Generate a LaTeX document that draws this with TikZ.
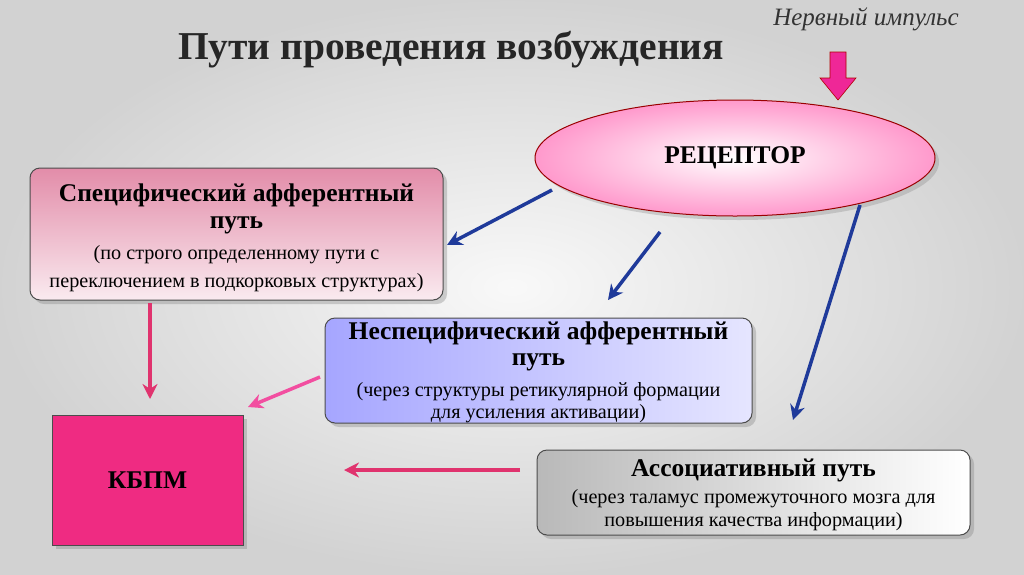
\documentclass[tikz,border=0pt]{standalone}
\usepackage{fontspec}
\setmainfont{Liberation Serif}
\usetikzlibrary{arrows.meta,shadows,shapes.geometric}
\definecolor{bluearr}{HTML}{1F3A9A}
\definecolor{pinkarr}{HTML}{E0336E}
\tikzset{
  barr/.style={draw=bluearr,line width=3.5pt,-{Stealth[length=15pt,width=15pt]}},
  parr/.style={draw=pinkarr,line width=3.5pt,-{Stealth[length=15pt,width=15pt]}},
  bx/.style={rounded corners=10pt,draw=black!70,line width=1pt,drop shadow={opacity=0.35,shadow xshift=4pt,shadow yshift=-4pt},align=center},
  big/.style={font=\fontsize{25.5}{29}\selectfont\bfseries},
  sm/.style={font=\fontsize{20.2}{24}\selectfont}
}
\begin{document}
\begin{tikzpicture}[x=1pt,y=-1pt]
\useasboundingbox (0,0) rectangle (1024,574);
\shade[inner color=white!95!gray,outer color=gray!35] (0,0) rectangle (1024,574);
\node (title) at (451,50) [font=\fontsize{39.5}{44}\selectfont\bfseries,text=black!85] {Пути проведения возбуждения};
\node (imp) at (866,19) [font=\fontsize{25}{28}\selectfont\itshape,text=black!80] {Нервный импульс};
\node (rec) at (735,158) [ellipse,minimum width=400pt,minimum height=116pt,draw=red!60!black,line width=1pt,inner color=white,outer color=pink!80!magenta,drop shadow={opacity=0.3,shadow xshift=4pt,shadow yshift=-4pt},big] {РЕЦЕПТОР};
\draw[draw=red!70!black,fill=magenta!80!pink,line width=0.6pt] (830,52) -- (846,52) -- (846,78) -- (856,78) -- (838,100) -- (820,78) -- (830,78) -- cycle;
\node (b1) [bx,minimum width=413pt,minimum height=132pt,left color=purple!45!white,right color=white!92!purple,shading angle=0] at (236.5,234) {};
\node at (236.5,195) [big] {Специфический афферентный};
\node at (236.5,225) [big] {путь};
\node at (236.5,255) [sm] {(по строго определенному пути с};
\node at (236.5,283) [sm] {переключением в подкорковых структурах)};
\node (b2) [bx,minimum width=427pt,minimum height=105pt,left color=blue!35!white,right color=white!90!blue] at (538.5,370.5) {};
\node at (538.5,333) [big] {Неспецифический афферентный};
\node at (538.5,362) [big] {путь};
\node at (538.5,392) [sm] {(через структуры ретикулярной формации};
\node at (538.5,414) [sm] {для усиления активации)};
\node (b3) [bx,minimum width=433pt,minimum height=85pt,left color=gray!55,right color=white] at (753.5,492.5) {};
\node at (753.5,470) [big] {Ассоциативный путь};
\node at (753.5,499) [sm] {(через таламус промежуточного мозга для};
\node at (753.5,522) [sm] {повышения качества информации)};
\node (k) [draw=black!70,line width=1pt,fill=magenta!75!red!85!white,minimum width=191pt,minimum height=130pt,big,drop shadow={opacity=0.35,shadow xshift=4pt,shadow yshift=-4pt}] at (147.5,480) {КБПМ};
\coordinate (a1s) at (552,190); \coordinate (a1e) at (447,245);
\coordinate (a2s) at (660,232); \coordinate (a2e) at (608,300);
\coordinate (a3s) at (860,205); \coordinate (a3e) at (793,420);
\draw[barr] (a1s) -- (a1e);
\draw[barr] (a2s) -- (a2e);
\draw[barr] (a3s) -- (a3e);
\coordinate (p1s) at (150,303); \coordinate (p1e) at (150,399);
\coordinate (p2s) at (320,377); \coordinate (p2e) at (248,407);
\coordinate (p3s) at (520,470); \coordinate (p3e) at (344,470);
\draw[parr] (p1s) -- (p1e);
\draw[parr,draw=magenta!60!pink] (p2s) -- (p2e);
\draw[parr] (p3s) -- (p3e);
\end{tikzpicture}
\end{document}
